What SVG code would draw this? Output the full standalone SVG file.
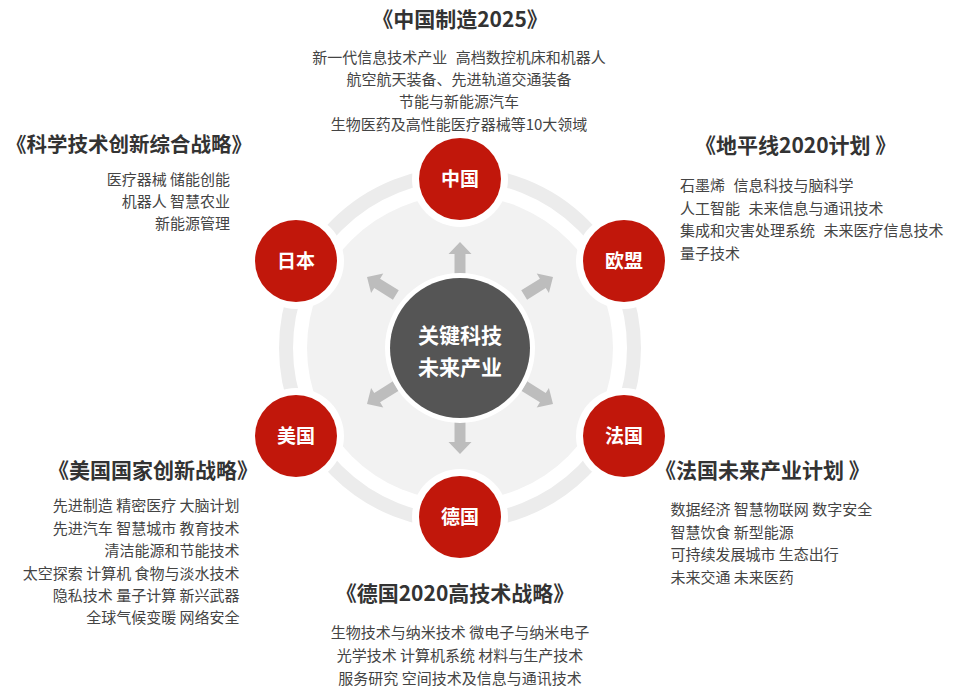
<svg xmlns="http://www.w3.org/2000/svg" width="960" height="693" viewBox="0 0 960 693">
<style>
.title{font-family:"Noto Sans CJK SC","Liberation Sans",sans-serif;font-weight:bold;font-size:21px;fill:#333}
.body{font-family:"Noto Sans CJK SC","Liberation Sans",sans-serif;font-size:15px;fill:#444}
.nlabel{font-family:"Noto Sans CJK SC","Liberation Sans",sans-serif;font-weight:bold;font-size:19px;fill:#fff;text-anchor:middle}
.halo{fill:#fff}
.node{fill:#c1170b}
.arrow{fill:#bdbdbd}
</style>
<defs>
<path id="arr" d="M-34,-5.5 L-12,-5.5 L-12,-11.5 L0,0 L-12,11.5 L-12,5.5 L-34,5.5 Z"/>
</defs>
<rect width="960" height="693" fill="#fff"/>
<g id="backdrop">
<circle cx="460" cy="348" r="153" fill="#f2f2f2"/>
<circle cx="460" cy="348" r="174" fill="none" stroke="#ececec" stroke-width="14"/>
</g>
<g id="connectors" class="arrow">
<use href="#arr" transform="translate(460,242) rotate(-90)"/>
<use href="#arr" transform="translate(460,454) rotate(90)"/>
<use href="#arr" transform="translate(553,277) rotate(-32)"/>
<use href="#arr" transform="translate(367,277) rotate(-148)"/>
<use href="#arr" transform="translate(553,404) rotate(32)"/>
<use href="#arr" transform="translate(367,404) rotate(148)"/>
</g>
<g id="center">
<circle cx="460" cy="348" r="75" fill="#fff"/>
<circle cx="460" cy="348" r="70" fill="#555"/>
<text x="460" y="343" class="nlabel" style="font-size:21px">关键科技</text>
<text x="460" y="375" class="nlabel" style="font-size:21px">未来产业</text>
</g>
<g id="china">
<circle cx="460" cy="179" r="48" class="halo"/>
<circle cx="460" cy="179" r="41" class="node"/>
<text x="460" y="186" class="nlabel">中国</text>
<text x="460" y="27" class="title" text-anchor="middle">《中国制造2025》</text>
<text x="459" y="63" class="body" text-anchor="middle">新一代信息技术产业 <tspan dx="5">高档数控机床和机器人</tspan></text>
<text x="459" y="85" class="body" text-anchor="middle">航空航天装备、先进轨道交通装备</text>
<text x="459" y="107" class="body" text-anchor="middle">节能与新能源汽车</text>
<text x="459" y="130" class="body" text-anchor="middle">生物医药及高性能医疗器械等10大领域</text>
</g>
<g id="eu">
<circle cx="624" cy="261" r="48" class="halo"/>
<circle cx="624" cy="261" r="41" class="node"/>
<text x="624" y="268" class="nlabel">欧盟</text>
<text x="695" y="153" class="title" xml:space="preserve">《地平线2020计划 》</text>
<text x="680" y="191" class="body">石墨烯 <tspan dx="5">信息科技与脑科学</tspan></text>
<text x="680" y="213.5" class="body">人工智能 <tspan dx="5">未来信息与通讯技术</tspan></text>
<text x="680" y="236" class="body">集成和灾害处理系统 <tspan dx="5">未来医疗信息技术</tspan></text>
<text x="680" y="258.5" class="body">量子技术</text>
</g>
<g id="france">
<circle cx="624" cy="436" r="48" class="halo"/>
<circle cx="624" cy="436" r="41" class="node"/>
<text x="624" y="443" class="nlabel">法国</text>
<text x="655" y="478" class="title" xml:space="preserve">《法国未来产业计划 》</text>
<text x="670.5" y="515" class="body">数据经济 智慧物联网 数字安全</text>
<text x="670.5" y="537.5" class="body">智慧饮食 新型能源</text>
<text x="670.5" y="560" class="body">可持续发展城市 生态出行</text>
<text x="670.5" y="582.5" class="body">未来交通 未来医药</text>
</g>
<g id="germany">
<circle cx="460" cy="517" r="48" class="halo"/>
<circle cx="460" cy="517" r="41" class="node"/>
<text x="460" y="524" class="nlabel">德国</text>
<text x="455" y="601" class="title" text-anchor="middle">《德国2020高技术战略》</text>
<text x="460" y="638" class="body" text-anchor="middle">生物技术与纳米技术 微电子与纳米电子</text>
<text x="460" y="661" class="body" text-anchor="middle">光学技术 计算机系统 材料与生产技术</text>
<text x="460" y="684" class="body" text-anchor="middle">服务研究 空间技术及信息与通讯技术</text>
</g>
<g id="usa">
<circle cx="296" cy="436" r="48" class="halo"/>
<circle cx="296" cy="436" r="41" class="node"/>
<text x="296" y="443" class="nlabel">美国</text>
<text x="258" y="478" class="title" text-anchor="end">《美国国家创新战略》</text>
<text x="239.5" y="511" class="body" text-anchor="end">先进制造 精密医疗 大脑计划</text>
<text x="239.5" y="533.5" class="body" text-anchor="end">先进汽车 智慧城市 教育技术</text>
<text x="239.5" y="556" class="body" text-anchor="end">清洁能源和节能技术</text>
<text x="239.5" y="578.5" class="body" text-anchor="end">太空探索 计算机 食物与淡水技术</text>
<text x="239.5" y="601" class="body" text-anchor="end">隐私技术 量子计算 新兴武器</text>
<text x="239.5" y="623" class="body" text-anchor="end">全球气候变暖 网络安全</text>
</g>
<g id="japan">
<circle cx="296" cy="261" r="48" class="halo"/>
<circle cx="296" cy="261" r="41" class="node"/>
<text x="296" y="268" class="nlabel">日本</text>
<text x="252" y="152" class="title" text-anchor="end" style="font-size:20.5px">《科学技术创新综合战略》</text>
<text x="230" y="185" class="body" text-anchor="end">医疗器械 储能创能</text>
<text x="230" y="207" class="body" text-anchor="end">机器人 智慧农业</text>
<text x="230" y="229" class="body" text-anchor="end">新能源管理</text>
</g>
</svg>
